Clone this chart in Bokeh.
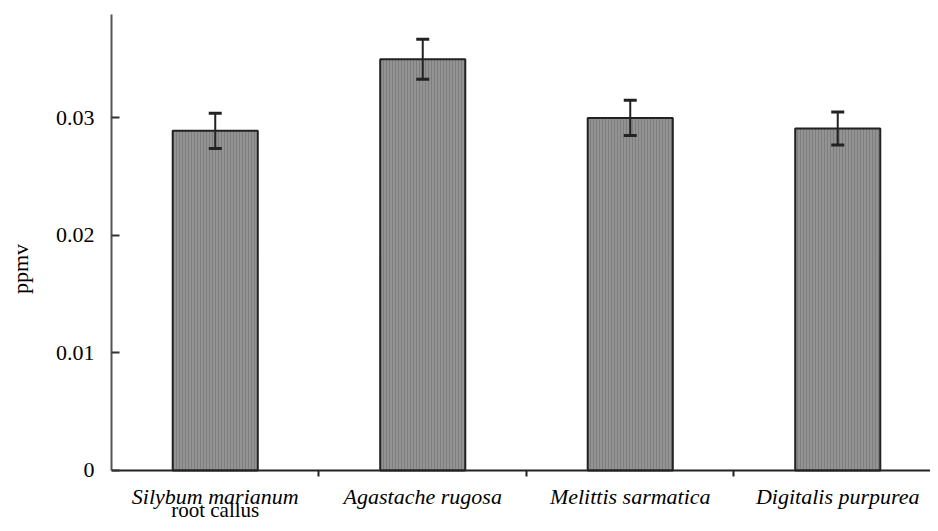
from bokeh.plotting import figure
from bokeh.models import (ColumnDataSource, FixedTicker, Whisker, TeeHead, Range1d,
                          LinearAxis)
from bokeh.core.properties import value
from bokeh.embed import file_html
from bokeh.resources import INLINE

categories = ["Silybum marianum", "Agastache rugosa", "Melittis sarmatica", "Digitalis purpurea"]
sub_labels = ["root callus", "", "", ""]
values = [0.0289, 0.0350, 0.0300, 0.0291]
errors = [0.0015, 0.0017, 0.0015, 0.0014]
y_ticks = [0, 0.01, 0.02, 0.03]
y_tick_labels = ["0", "0.01", "0.02", "0.03"]

xs = [i + 0.5 for i in range(len(categories))]
src = ColumnDataSource(dict(
    x=xs, top=values,
    upper=[v + e for v, e in zip(values, errors)],
    lower=[v - e for v, e in zip(values, errors)],
))

FONT = "Liberation Serif"
PX = 11750.0          # screen pixels per y unit
Y_TOP = 0.0388
Y_BOT = -53 / PX      # room under the zero line for the category names

p = figure(width=930, height=523, output_backend="svg", toolbar_location=None,
           x_range=Range1d(0, 3.947), y_range=Range1d(Y_BOT, Y_TOP),
           x_axis_location=None,
           min_border_left=111, min_border_right=0, min_border_top=14, min_border_bottom=0)
p.outline_line_color = None
p.xgrid.visible = False
p.ygrid.visible = False
p.background_fill_color = "white"
p.border_fill_color = "white"

p.vbar(x="x", top="top", bottom=0, width=0.41, source=src,
       fill_color="#939393", line_color="#222222", line_width=2,
       hatch_pattern="vertical_line", hatch_color="#7e7e7e", hatch_scale=3, hatch_weight=1)

w = Whisker(source=src, base="x", upper="upper", lower="lower",
            line_color="#222222", line_width=2, level="overlay",
            upper_head=TeeHead(size=13, line_color="#222222", line_width=3),
            lower_head=TeeHead(size=13, line_color="#222222", line_width=3))
p.add_layout(w)

# y axis
ya = p.yaxis[0]
ya.bounds = (0, Y_TOP)
ya.ticker = FixedTicker(ticks=y_ticks, minor_ticks=[])
ya.major_label_overrides = {t: l for t, l in zip(y_ticks, y_tick_labels)}
ya.axis_line_color = "#555555"
ya.axis_line_width = 2
ya.major_tick_in = 8
ya.major_tick_out = 0
ya.major_tick_line_color = "#333333"
ya.major_tick_line_width = 2
ya.major_label_standoff = 17
ya.major_label_text_font = FONT
ya.major_label_text_font_size = "22px"
ya.major_label_text_color = "black"
ya.axis_label = "ppmv"
ya.axis_label_text_font = FONT
ya.axis_label_text_font_style = "normal"
ya.axis_label_text_font_size = "22px"
ya.axis_label_text_color = "black"
ya.axis_label_standoff = 20

# x axis line at y = 0 with ticks between the categories
xa = LinearAxis(fixed_location=0, ticker=FixedTicker(ticks=[], minor_ticks=[1, 2, 3]))
xa.axis_line_color = "#222222"
xa.axis_line_width = 2
xa.major_tick_line_color = None
xa.minor_tick_line_color = "#222222"
xa.minor_tick_line_width = 2
xa.minor_tick_in = 0
xa.minor_tick_out = 6
p.add_layout(xa, "below")

# category names
lab = ColumnDataSource(dict(x=xs, y=[-26 / PX] * len(xs), t=categories))
p.text(x="x", y="y", text="t", source=lab, text_align="center", text_baseline="alphabetic",
       text_font=value(FONT), text_font_style="italic", text_font_size="22px",
       text_color="black")
sub = ColumnDataSource(dict(x=[x for x, s in zip(xs, sub_labels) if s],
                            y=[-40 / PX] * sum(1 for s in sub_labels if s),
                            t=[s for s in sub_labels if s]))
p.text(x="x", y="y", text="t", source=sub, text_align="center", text_baseline="alphabetic",
       text_font=value(FONT), text_font_size="21px", text_color="black")

open("out.html", "w").write(file_html(p, INLINE))
